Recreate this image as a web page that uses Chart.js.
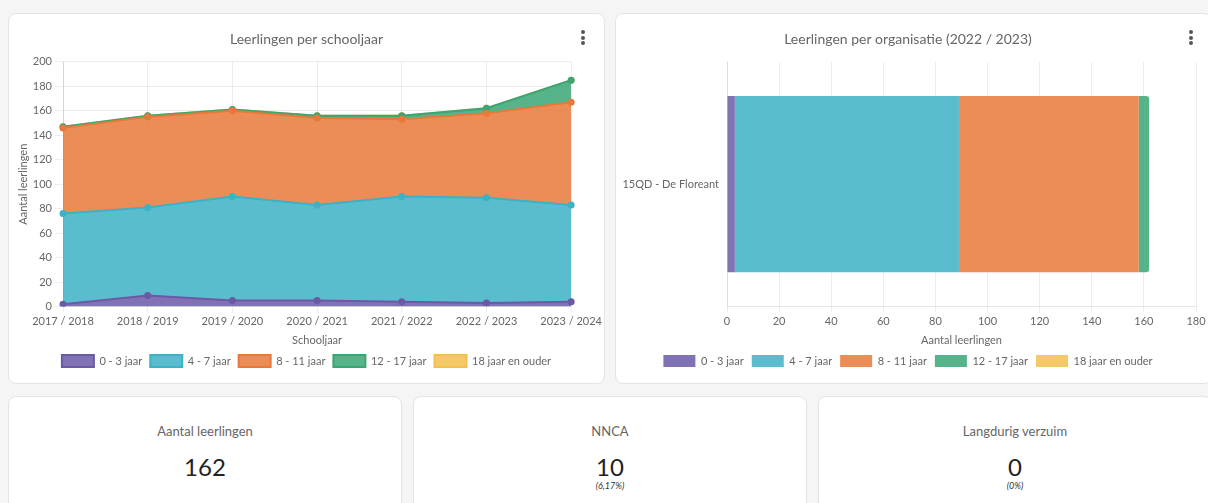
<!DOCTYPE html>
<html>
<head>
<meta charset="utf-8">
<script src="https://cdn.jsdelivr.net/npm/chart.js@4/dist/chart.umd.min.js"></script>
<style>
  html, body { margin: 0; padding: 0; }
  body { width: 1208px; height: 503px; overflow: hidden; background: #f5f5f5; font-family: Lato, "Noto Sans", sans-serif; position: relative; }
  .card { position: absolute; background: #fff; border: 1px solid #e4e4e4; border-radius: 8px; box-sizing: border-box; }
  .chartbox { position: absolute; left: 0; top: 0; width: 100%; height: 100%; }
  .dots { position: absolute; width: 4px; }
  .dots i { display: block; width: 4px; height: 4px; border-radius: 2px; background: #555; margin-bottom: 1.5px; }
  .kpi { text-align: center; }
  .kpi .t { position: absolute; left: 0; right: 0; top: 26px; font-size: 13px; color: #666; }
  .kpi .n { position: absolute; left: 0; right: 0; top: 55px; font-size: 24px; color: #222; }
  .kpi .s { position: absolute; left: 0; right: 0; top: 83px; font-size: 9px; font-style: italic; color: #333; }
</style>
</head>
<body>
<div class="card" style="left:8px; top:13px; width:597px; height:371px;">
  <div class="chartbox"><canvas id="yearChart"></canvas></div>
  <div class="dots" style="left:572px; top:16px;"><i></i><i></i><i></i></div>
</div>
<div class="card" style="left:615px; top:13px; width:597px; height:371px;">
  <div class="chartbox"><canvas id="orgChart"></canvas></div>
  <div class="dots" style="left:573px; top:16px;"><i></i><i></i><i></i></div>
</div>
<div class="card kpi" style="left:8px; top:396px; width:394px; height:130px;">
  <div class="t">Aantal leerlingen</div><div class="n">162</div>
</div>
<div class="card kpi" style="left:413px; top:396px; width:394px; height:130px;">
  <div class="t">NNCA</div><div class="n">10</div><div class="s">(6,17%)</div>
</div>
<div class="card kpi" style="left:818px; top:396px; width:394px; height:130px;">
  <div class="t">Langdurig verzuim</div><div class="n">0</div><div class="s">(0%)</div>
</div>
<script>
const schoolYears = ['2017 / 2018', '2018 / 2019', '2019 / 2020', '2020 / 2021', '2021 / 2022', '2022 / 2023', '2023 / 2024'];
const ageGroups = ['0 - 3 jaar', '4 - 7 jaar', '8 - 11 jaar', '12 - 17 jaar', '18 jaar en ouder'];

// leerlingen per leeftijdsgroep, per schooljaar
const age0to3 = [2, 9, 5, 5, 4, 3, 4];
const age4to7 = [74, 72, 85, 78, 86, 86, 79];
const age8to11 = [70, 74, 70, 71, 63, 69, 84];
const age12to17 = [1, 1, 1, 2, 3, 4, 18];
const age18plus = [0, 0, 0, 0, 0, 0, 0];

// organisatie, schooljaar 2022 / 2023
const organisations = ['15QD - De Floreant'];
const orgValues = [3, 86, 69, 4, 0];

const lineColors = ['#6b59a6', '#3db1c5', '#e9793a', '#3aa676', '#f5bf4d'];
const fillColors = ['rgba(107,89,166,0.85)', 'rgba(61,177,197,0.85)', 'rgba(233,121,58,0.85)', 'rgba(58,166,118,0.85)', 'rgba(245,191,77,0.85)'];

Chart.defaults.font.family = 'Lato, "Noto Sans", sans-serif';
Chart.defaults.font.size = 11;
Chart.defaults.color = '#666';

const gridColor = 'rgba(0,0,0,0.07)';
const legendOpts = {
    position: 'bottom',
    labels: { boxWidth: 32, boxHeight: 12, font: { size: 11 }, padding: 8 },
};
const titleOpts = (text) => ({
    display: true,
    text: text,
    color: '#666',
    font: { size: 14, weight: 'normal' },
    padding: { top: 10, bottom: 14 },
});

const yearSeries = [age0to3, age4to7, age8to11, age12to17, age18plus];

new Chart(document.getElementById('yearChart'), {
    type: 'line',
    data: {
        labels: schoolYears,
        datasets: yearSeries.map((values, i) => ({
            label: ageGroups[i],
            data: values,
            borderColor: lineColors[i],
            backgroundColor: fillColors[i],
            pointBackgroundColor: lineColors[i],
            pointBorderColor: lineColors[i],
            pointRadius: 2.5,
            borderWidth: 2,
            tension: 0,
            fill: i === 0 ? 'origin' : '-1',
        })),
    },
    options: {
        responsive: true,
        maintainAspectRatio: false,
        animation: false,
        layout: { padding: { left: 8, right: 8, top: 7, bottom: 6 } },
        plugins: {
            title: titleOpts('Leerlingen per schooljaar'),
            legend: legendOpts,
            tooltip: { enabled: false },
        },
        scales: {
            x: {
                grid: { color: gridColor, tickLength: 6 },
                ticks: { maxRotation: 0, padding: 2 },
                title: { display: true, text: 'Schooljaar', padding: { top: 4, bottom: 0 } },
            },
            y: {
                stacked: true,
                min: 0,
                max: 200,
                ticks: { stepSize: 20 },
                grid: { color: gridColor },
                title: { display: true, text: 'Aantal leerlingen', padding: { top: 0, bottom: 2 } },
                afterFit: (scale) => { scale.width = 46; },
            },
        },
    },
});

new Chart(document.getElementById('orgChart'), {
    type: 'bar',
    data: {
        labels: organisations,
        datasets: orgValues.map((v, i) => ({
            label: ageGroups[i],
            data: [v],
            backgroundColor: fillColors[i],
            borderColor: fillColors[i],
            borderWidth: 0,
            borderRadius: 3,
        })),
    },
    options: {
        indexAxis: 'y',
        responsive: true,
        maintainAspectRatio: false,
        animation: false,
        layout: { padding: { left: 4, right: 15, top: 7, bottom: 6 } },
        plugins: {
            title: titleOpts('Leerlingen per organisatie (2022 / 2023)'),
            legend: legendOpts,
            tooltip: { enabled: false },
        },
        scales: {
            x: {
                stacked: true,
                min: 0,
                max: 180,
                ticks: { stepSize: 20, padding: 2 },
                grid: { color: gridColor, tickLength: 6 },
                title: { display: true, text: 'Aantal leerlingen', padding: { top: 4, bottom: 0 } },
            },
            y: {
                stacked: true,
                grid: { display: false, drawTicks: false },
                border: { display: true, color: gridColor },
                ticks: { padding: 8 },
                afterFit: (scale) => { scale.width = 107; },
            },
        },
    },
});
</script>
</body>
</html>
